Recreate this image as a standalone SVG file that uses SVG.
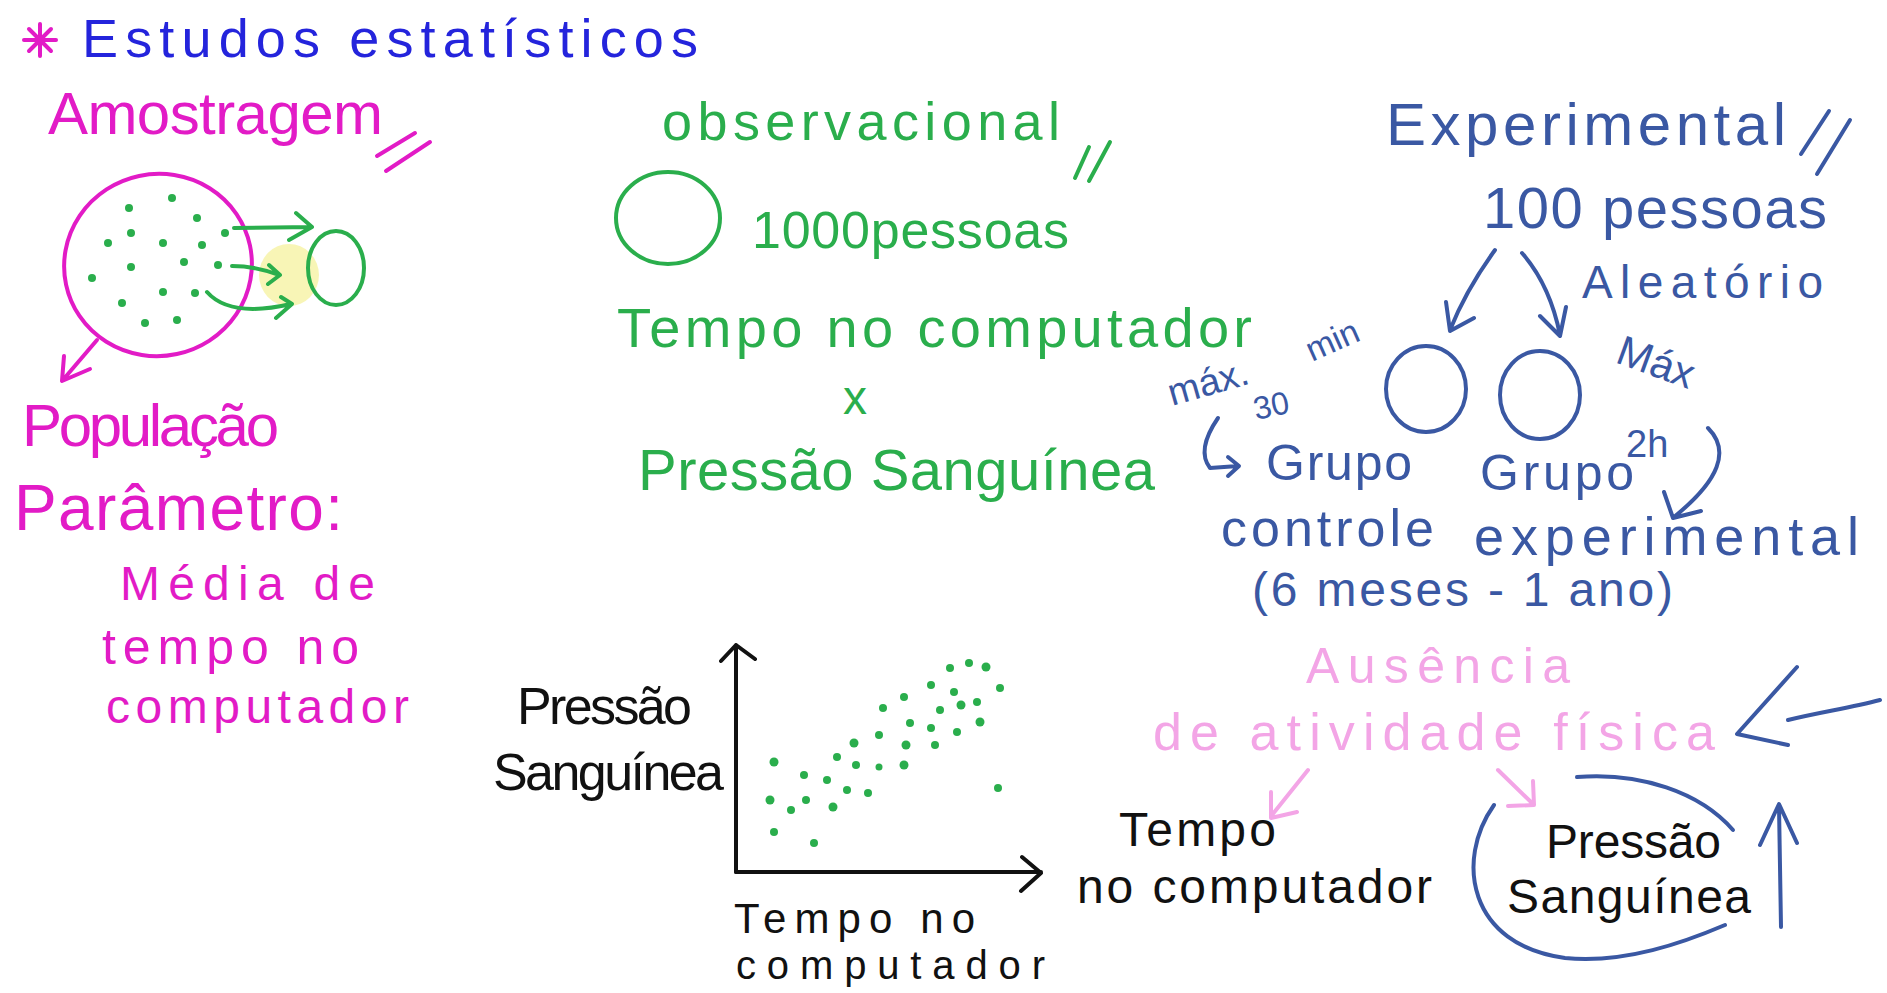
<svg xmlns="http://www.w3.org/2000/svg" width="1887" height="993" viewBox="0 0 1887 993">
<style>
text{font-family:"Liberation Sans","DejaVu Sans",sans-serif;}
.mg{fill:#e21bc6}
.bl{fill:#2424dc}
.gr{fill:#2aae4c}
.sb{fill:#3a58a3}
.lp{fill:#f3a5e6}
.bk{fill:#111}
.s{fill:none;stroke-linecap:round;stroke-linejoin:round;stroke-width:4}
.smg{stroke:#e21bc6}
.sgr{stroke:#2aae4c}
.ssb{stroke:#3a58a3}
.slp{stroke:#f3a5e6}
.sbk{stroke:#111}
.dg{fill:#2aae4c}
</style>
<rect width="1887" height="993" fill="#ffffff"/>

<g id="titulo">
  <g class="s smg" stroke-width="5">
    <line x1="24" y1="40" x2="56" y2="40"/>
    <line x1="40" y1="24" x2="40" y2="56"/>
    <line x1="29" y1="29" x2="51" y2="51"/>
    <line x1="51" y1="29" x2="29" y2="51"/>
  </g>
  <text class="bl" x="82" y="57" font-size="54" textLength="616" lengthAdjust="spacing">Estudos estatísticos</text>
</g>

<g id="amostragem">
  <text class="mg" x="48" y="134" font-size="60" textLength="335" lengthAdjust="spacing">Amostragem</text>
  <path class="s smg" d="M377,156 L415,133 M386,171 L430,142"/>
  <ellipse cx="289" cy="275" rx="30" ry="31" fill="#f6f2a4" opacity="0.8"/>
  <ellipse class="s smg" cx="158" cy="265" rx="94" ry="91" transform="rotate(-12 158 265)"/>
  <g class="dg">
    <circle cx="172" cy="198" r="4"/><circle cx="129" cy="208" r="4"/><circle cx="197" cy="218" r="4"/>
    <circle cx="131" cy="233" r="4"/><circle cx="225" cy="233" r="4"/><circle cx="108" cy="243" r="4"/>
    <circle cx="163" cy="243" r="4"/><circle cx="202" cy="245" r="4"/><circle cx="184" cy="262" r="4"/>
    <circle cx="131" cy="267" r="4"/><circle cx="218" cy="265" r="4"/><circle cx="92" cy="278" r="4"/>
    <circle cx="163" cy="292" r="4"/><circle cx="122" cy="303" r="4"/><circle cx="195" cy="293" r="4"/>
    <circle cx="177" cy="320" r="4"/><circle cx="145" cy="323" r="4"/>
  </g>
  <ellipse class="s sgr" cx="336" cy="268" rx="28" ry="37"/>
  <text class="mg" x="22" y="446" font-size="60" textLength="257" lengthAdjust="spacing">População</text>
  <text class="mg" x="14" y="530" font-size="64" textLength="329" lengthAdjust="spacing">Parâmetro:</text>
  <text class="mg" x="120" y="600" font-size="48" textLength="255" lengthAdjust="spacing">Média de</text>
  <text class="mg" x="102" y="664" font-size="50" textLength="257" lengthAdjust="spacing">tempo no</text>
  <text class="mg" x="106" y="723" font-size="48" textLength="303" lengthAdjust="spacing">computador</text>
</g>

<g id="observacional">
  <text class="gr" x="662" y="140" font-size="54" textLength="398" lengthAdjust="spacing">observacional</text>
  <path class="s sgr" d="M1075,178 L1089,147 M1089,181 L1110,142"/>
  <ellipse class="s sgr" cx="668" cy="218" rx="52" ry="46"/>
  <text class="gr" x="752" y="248" font-size="52" textLength="317" lengthAdjust="spacing">1000pessoas</text>
  <text class="gr" x="617" y="347" font-size="56" textLength="635" lengthAdjust="spacing">Tempo no computador</text>
  <text class="gr" x="843" y="414" font-size="48">x</text>
  <text class="gr" x="638" y="490" font-size="58" textLength="517" lengthAdjust="spacing">Pressão Sanguínea</text>
</g>

<g id="grafico">
  <text class="bk" x="517" y="724" font-size="52" textLength="175" lengthAdjust="spacing">Pressão</text>
  <text class="bk" x="493" y="790" font-size="52" textLength="231" lengthAdjust="spacing">Sanguínea</text>
  <g class="dg">
    <circle cx="950" cy="668" r="4"/><circle cx="969" cy="663" r="4"/><circle cx="986" cy="667" r="4.5"/>
    <circle cx="931" cy="685" r="4"/><circle cx="954" cy="692" r="4"/><circle cx="1000" cy="688" r="4"/>
    <circle cx="904" cy="697" r="4"/><circle cx="883" cy="708" r="4"/><circle cx="940" cy="710" r="4"/>
    <circle cx="961" cy="705" r="4.5"/><circle cx="977" cy="702" r="4"/><circle cx="910" cy="723" r="4"/>
    <circle cx="931" cy="728" r="4"/><circle cx="957" cy="732" r="4"/><circle cx="980" cy="722" r="4.5"/>
    <circle cx="854" cy="743" r="4.5"/><circle cx="879" cy="735" r="4"/><circle cx="906" cy="745" r="4.5"/>
    <circle cx="935" cy="745" r="4"/><circle cx="837" cy="757" r="4"/><circle cx="856" cy="765" r="4"/>
    <circle cx="879" cy="767" r="3.5"/><circle cx="904" cy="765" r="4.5"/><circle cx="774" cy="762" r="4.5"/>
    <circle cx="804" cy="775" r="4"/><circle cx="827" cy="780" r="4"/><circle cx="847" cy="790" r="4"/>
    <circle cx="868" cy="793" r="4"/><circle cx="770" cy="800" r="4.5"/><circle cx="791" cy="810" r="4"/>
    <circle cx="806" cy="800" r="4"/><circle cx="833" cy="807" r="4.5"/><circle cx="774" cy="832" r="4"/>
    <circle cx="814" cy="843" r="4"/><circle cx="998" cy="788" r="4"/>
  </g>
  <text class="bk" x="734" y="933" font-size="42" textLength="241" lengthAdjust="spacing">Tempo no</text>
  <text class="bk" x="736" y="979" font-size="40" textLength="309" lengthAdjust="spacing">computador</text>
</g>

<g id="experimental">
  <text class="sb" x="1386" y="145" font-size="60" textLength="400" lengthAdjust="spacing">Experimental</text>
  <path class="s ssb" d="M1801,154 L1829,111 M1817,174 L1850,120"/>
  <text class="sb" x="1483" y="228" font-size="58" textLength="344" lengthAdjust="spacing">100 pessoas</text>
  <text class="sb" x="1582" y="298" font-size="46" textLength="241" lengthAdjust="spacing">Aleatório</text>
  <ellipse class="s ssb" cx="1426" cy="389" rx="40" ry="43"/>
  <ellipse class="s ssb" cx="1540" cy="395" rx="40" ry="44"/>
  <text class="sb" x="1172" y="406" font-size="38" transform="rotate(-16 1172 406)">máx.</text>
  <text class="sb" x="1256" y="420" font-size="32" transform="rotate(-12 1256 420)">30</text>
  <text class="sb" x="1312" y="362" font-size="34" transform="rotate(-24 1312 362)">min</text>
  <text class="sb" x="1614" y="362" font-size="42" transform="rotate(20 1614 362)">Máx</text>
  <text class="sb" x="1626" y="457" font-size="38">2h</text>
  <text class="sb" x="1266" y="480" font-size="50" textLength="146" lengthAdjust="spacing">Grupo</text>
  <text class="sb" x="1480" y="490" font-size="50" textLength="154" lengthAdjust="spacing">Grupo</text>
  <text class="sb" x="1221" y="546" font-size="52" textLength="213" lengthAdjust="spacing">controle</text>
  <text class="sb" x="1474" y="555" font-size="54" textLength="385" lengthAdjust="spacing">experimental</text>
  <text class="sb" x="1252" y="606" font-size="48" textLength="421" lengthAdjust="spacing">(6 meses - 1 ano)</text>
</g>

<g id="ausencia">
  <text class="lp" x="1306" y="683" font-size="50" textLength="264" lengthAdjust="spacing">Ausência</text>
  <text class="lp" x="1153" y="750" font-size="52" textLength="562" lengthAdjust="spacing">de atividade física</text>
  <text class="bk" x="1119" y="846" font-size="48" textLength="157" lengthAdjust="spacing">Tempo</text>
  <text class="bk" x="1077" y="903" font-size="48" textLength="355" lengthAdjust="spacing">no computador</text>
  <text class="bk" x="1546" y="858" font-size="48" textLength="175" lengthAdjust="spacing">Pressão</text>
  <text class="bk" x="1507" y="913" font-size="48" textLength="244" lengthAdjust="spacing">Sanguínea</text>
</g>

<g id="connectors">
  <path class="s sgr" d="M234,228 L312,227 M296,213 L312,227 L289,240"/>
  <path class="s sgr" d="M232,266 Q255,266 279,275 M269,265 L280,275 L268,284"/>
  <path class="s sgr" d="M207,292 Q230,318 291,304 M281,297 L292,304 L276,318"/>
  <path class="s smg" d="M97,340 L62,381 M64,356 L62,381 L90,369"/>
  <path class="s sbk" d="M736,872 L736,645 M721,661 L736,645 L755,659"/>
  <path class="s sbk" d="M736,872 L1041,872 M1022,857 L1041,873 L1021,891"/>
  <path class="s ssb" d="M1495,250 Q1466,290 1450,330 M1446,302 L1450,331 L1474,318"/>
  <path class="s ssb" d="M1522,253 Q1550,285 1560,335 M1540,316 L1560,336 L1566,307"/>
  <path class="s ssb" d="M1218,418 Q1196,450 1210,468 L1238,466 M1228,457 L1239,466 L1228,476"/>
  <path class="s ssb" d="M1708,428 Q1742,462 1674,517 M1664,492 L1673,518 L1701,511"/>
  <path class="s slp" d="M1308,770 L1272,815 M1271,792 L1271,818 L1297,812"/>
  <path class="s slp" d="M1498,770 L1532,803 M1508,806 L1534,805 L1533,781"/>
  <path class="s ssb" d="M1494,805 C1455,860 1468,945 1565,958 C1625,964 1685,942 1725,925"/>
  <path class="s ssb" d="M1577,777 C1640,772 1700,792 1733,830"/>
  <path class="s ssb" d="M1781,927 L1779,806 M1760,845 L1779,804 L1797,843"/>
  <path class="s ssb" d="M1797,667 L1737,734 L1788,745 M1788,720 C1820,712 1850,708 1880,700"/>
</g>
</svg>
